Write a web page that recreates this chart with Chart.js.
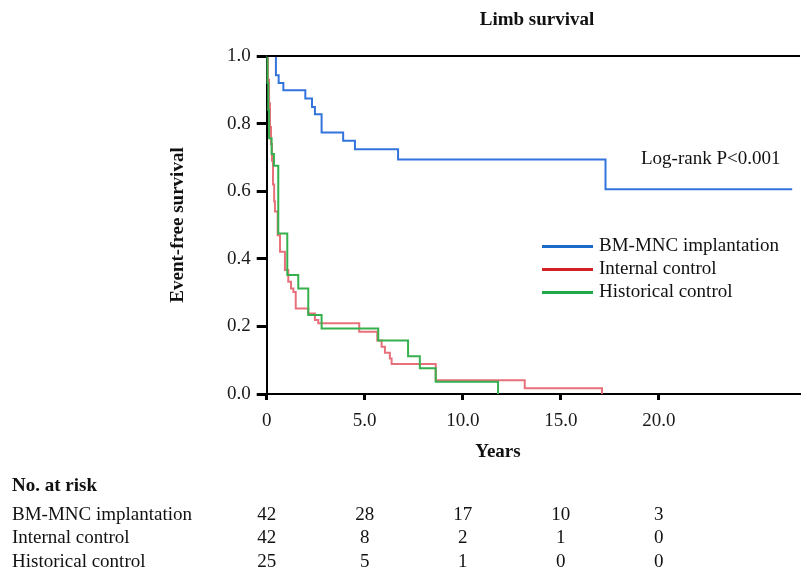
<!DOCTYPE html>
<html>
<head>
<meta charset="utf-8">
<title>Limb survival</title>
<script src="https://cdn.jsdelivr.net/npm/chart.js@4.4.1/dist/chart.umd.min.js"></script>
<style>
  body { margin: 0; background: #fff; }
  #wrap { width: 805px; height: 570px; }
</style>
</head>
<body>
<div id="wrap"><canvas id="kmChart" width="805" height="570"></canvas></div>
<script>
// Kaplan-Meier steps: time in years, survival after the drop
const bmTimes = [0, 0.47, 0.61, 0.85, 1.97, 2.31, 2.46, 2.80, 3.90, 4.50, 6.70, 17.28, 26.8];
const bmSurv  = [1.0, 0.943, 0.920, 0.899, 0.874, 0.849, 0.828, 0.774, 0.749, 0.724, 0.694, 0.606, 0.606];

const internalTimes = [0, 0.06, 0.12, 0.17, 0.22, 0.27, 0.32, 0.38, 0.42, 0.56, 0.68, 0.93, 1.10, 1.24, 1.36, 1.48,
                       2.12, 2.46, 2.63, 4.72, 5.64, 5.86, 6.03, 6.28, 6.37, 8.62, 13.16, 17.10];
const internalSurv  = [1.0, 0.93, 0.86, 0.79, 0.74, 0.69, 0.62, 0.57, 0.54, 0.47, 0.421, 0.367, 0.332, 0.312, 0.302, 0.253,
                       0.238, 0.219, 0.209, 0.184, 0.158, 0.140, 0.122, 0.105, 0.089, 0.041, 0.017, 0];

const historicalTimes = [0, 0.04, 0.08, 0.12, 0.25, 0.37, 0.59, 1.05, 1.61, 2.12, 2.80, 5.69, 7.21, 7.81, 8.62, 11.8];
const historicalSurv  = [1.0, 0.92, 0.84, 0.757, 0.71, 0.675, 0.475, 0.352, 0.312, 0.234, 0.194, 0.158, 0.112, 0.076, 0.036, 0];

const seriesNames = ['BM-MNC implantation', 'Internal control', 'Historical control'];

// number at risk table
const riskTimes = [0, 5, 10, 15, 20];
const riskBm = [42, 28, 17, 10, 3];
const riskInternal = [42, 8, 2, 1, 0];
const riskHistorical = [25, 5, 1, 0, 0];

const xTicks = [0, 5, 10, 15, 20];
const xTickLabels = ['0', '5.0', '10.0', '15.0', '20.0'];
const yTicks = [0, 0.2, 0.4, 0.6, 0.8, 1.0];
const yTickLabels = ['0.0', '0.2', '0.4', '0.6', '0.8', '1.0'];

const SERIF = "'Liberation Serif', 'Times New Roman', serif";
const lineColors = ['#3374dc', 'rgba(228, 96, 108, 0.9)', '#36b04c'];
const legendColors = ['#1b6ac9', '#d42027', '#1ea84a'];

const toPoints = (t, s) => t.map((v, i) => ({ x: v, y: s[i] }));

// text, legend, top frame line and the at-risk table
const extras = {
  id: 'extras',
  afterDraw(chart) {
    const { ctx, chartArea: a } = chart;
    const x = chart.scales.x;
    ctx.save();
    ctx.strokeStyle = '#000';
    ctx.lineWidth = 2;
    ctx.beginPath();
    ctx.moveTo(a.left, a.top);
    ctx.lineTo(a.right, a.top);
    ctx.stroke();

    ctx.fillStyle = '#111';
    ctx.textBaseline = 'middle';
    ctx.textAlign = 'center';
    ctx.font = `bold 19px ${SERIF}`;
    ctx.fillText('Limb survival', 537, 20);
    ctx.fillText('Years', 498, 452);
    ctx.save();
    ctx.translate(178, 225);
    ctx.rotate(-Math.PI / 2);
    ctx.fillText('Event-free survival', 0, 0);
    ctx.restore();

    ctx.font = `19px ${SERIF}`;
    ctx.textAlign = 'left';
    ctx.fillText('Log-rank P<0.001', 641, 159);

    // legend
    seriesNames.forEach((name, i) => {
      const y = 246.5 + i * 23;
      ctx.strokeStyle = legendColors[i];
      ctx.lineWidth = 3;
      ctx.beginPath();
      ctx.moveTo(542, y);
      ctx.lineTo(593, y);
      ctx.stroke();
      ctx.fillText(name, 599, y);
    });

    // no. at risk
    ctx.font = `bold 19px ${SERIF}`;
    ctx.fillText('No. at risk', 12, 486);
    ctx.font = `19px ${SERIF}`;
    [riskBm, riskInternal, riskHistorical].forEach((counts, i) => {
      const y = 515 + i * 23.5;
      ctx.textAlign = 'left';
      ctx.fillText(seriesNames[i], 12, y);
      ctx.textAlign = 'center';
      counts.forEach((n, j) => ctx.fillText(String(n), x.getPixelForValue(riskTimes[j]), y));
    });
    ctx.restore();
  }
};

const ctx = document.getElementById('kmChart').getContext('2d');
new Chart(ctx, {
  type: 'line',
  data: {
    datasets: [
      { label: seriesNames[0], data: toPoints(bmTimes, bmSurv), borderColor: lineColors[0], order: 1 },
      { label: seriesNames[1], data: toPoints(internalTimes, internalSurv), borderColor: lineColors[1], order: 3 },
      { label: seriesNames[2], data: toPoints(historicalTimes, historicalSurv), borderColor: lineColors[2], order: 2 },
    ],
  },
  options: {
    responsive: false,
    animation: false,
    layout: { padding: { left: 0, top: 56, right: 5, bottom: 136 } },
    elements: {
      line: { stepped: 'before', borderWidth: 2, tension: 0, fill: false },
      point: { radius: 0 },
    },
    datasets: { line: { clip: 4 } },
    plugins: { legend: { display: false }, tooltip: { enabled: false } },
    scales: {
      x: {
        type: 'linear',
        min: 0,
        max: 27.2,
        afterFit: (scale) => { scale.height = 40; },
        afterBuildTicks: (scale) => { scale.ticks = xTicks.map((v) => ({ value: v })); },
        ticks: {
          callback: (v, i) => xTickLabels[i],
          color: '#1a1a1a',
          font: { family: SERIF, size: 19 },
          padding: 10,
          maxRotation: 0,
        },
        grid: { drawOnChartArea: false, tickLength: 6, tickWidth: 3, tickColor: '#000' },
        border: { color: '#000', width: 2 },
      },
      y: {
        min: 0,
        max: 1,
        afterFit: (scale) => { scale.width = 266.7; },
        afterBuildTicks: (scale) => { scale.ticks = yTicks.map((v) => ({ value: v })); },
        ticks: {
          callback: (v, i) => yTickLabels[i],
          color: '#1a1a1a',
          font: { family: SERIF, size: 19 },
          padding: 6,
        },
        grid: { drawOnChartArea: false, tickLength: 10, tickWidth: 3, tickColor: '#000' },
        border: { color: '#000', width: 2 },
      },
    },
  },
  plugins: [extras],
});
</script>
</body>
</html>
